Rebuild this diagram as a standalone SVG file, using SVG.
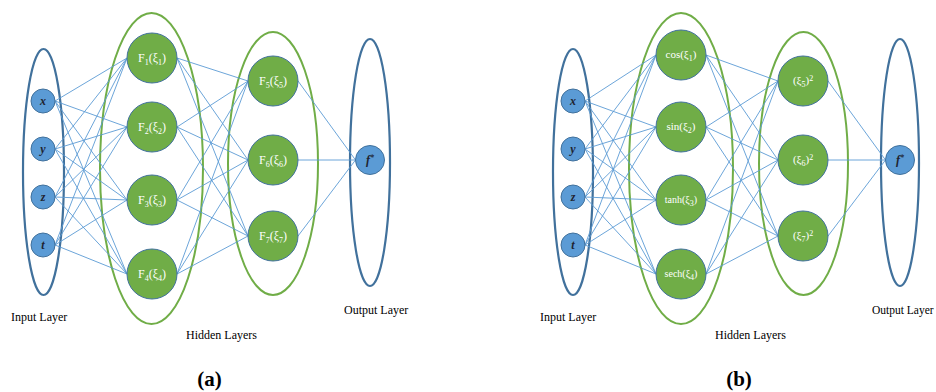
<svg xmlns="http://www.w3.org/2000/svg" width="936" height="392" viewBox="0 0 936 392">
<style>
text{font-family:"Liberation Serif","Times New Roman",serif}
.io{fill:none;stroke:#41719C;stroke-width:2.2}
.hl{fill:none;stroke:#70AD47;stroke-width:2}
.in{fill:#5B9BD5;stroke:#41719C;stroke-width:1}
.hn{fill:#70AD47;stroke:#41719C;stroke-width:1}
.c line{stroke:#5B9BD5;stroke-width:0.9}
.v{font-size:12px;font-weight:bold;font-style:italic;fill:#1f2430;text-anchor:middle}
.f{font-size:12px;fill:#ffffff;text-anchor:middle}
.f10{font-size:10px;fill:#ffffff;text-anchor:middle}
.f11{font-size:11px;fill:#ffffff;text-anchor:middle}
.s{font-size:8px}
.lab{font-size:12px;fill:#000}
.cap{font-size:21px;font-weight:bold;text-anchor:middle;fill:#000}
</style>

<!-- Panel (a) layers -->
<g id="a-input-layer"><ellipse class="io" cx="43.5" cy="172" rx="20.5" ry="123"/></g>
<g id="a-hidden-layer-1"><ellipse class="hl" cx="151.5" cy="168.5" rx="51.5" ry="155.5"/></g>
<g id="a-hidden-layer-2"><ellipse class="hl" cx="273" cy="163.5" rx="45" ry="131.5"/></g>
<g id="a-output-layer"><ellipse class="io" cx="370" cy="162.5" rx="20" ry="123.5"/></g>

<!-- Panel (b) layers -->
<g id="b-input-layer"><ellipse class="io" cx="573" cy="172" rx="20" ry="123"/></g>
<g id="b-hidden-layer-1"><ellipse class="hl" cx="681" cy="168.5" rx="52" ry="155.5"/></g>
<g id="b-hidden-layer-2"><ellipse class="hl" cx="803.5" cy="163.5" rx="44.5" ry="131.5"/></g>
<g id="b-output-layer"><ellipse class="io" cx="900" cy="162.5" rx="19" ry="123.5"/></g>

<g id="connectors" class="c">
<!-- a: input -> hidden1 -->
<line x1="55" y1="101" x2="127" y2="58"/><line x1="55" y1="101" x2="127" y2="127"/><line x1="55" y1="101" x2="127" y2="200"/><line x1="55" y1="101" x2="127" y2="274"/>
<line x1="55" y1="149" x2="127" y2="58"/><line x1="55" y1="149" x2="127" y2="127"/><line x1="55" y1="149" x2="127" y2="200"/><line x1="55" y1="149" x2="127" y2="274"/>
<line x1="55" y1="197" x2="127" y2="58"/><line x1="55" y1="197" x2="127" y2="127"/><line x1="55" y1="197" x2="127" y2="200"/><line x1="55" y1="197" x2="127" y2="274"/>
<line x1="55" y1="245" x2="127" y2="58"/><line x1="55" y1="245" x2="127" y2="127"/><line x1="55" y1="245" x2="127" y2="200"/><line x1="55" y1="245" x2="127" y2="274"/>
<!-- a: hidden1 -> hidden2 -->
<line x1="177" y1="58" x2="248" y2="81"/><line x1="177" y1="58" x2="248" y2="160"/><line x1="177" y1="58" x2="248" y2="236"/>
<line x1="177" y1="127" x2="248" y2="81"/><line x1="177" y1="127" x2="248" y2="160"/><line x1="177" y1="127" x2="248" y2="236"/>
<line x1="177" y1="200" x2="248" y2="81"/><line x1="177" y1="200" x2="248" y2="160"/><line x1="177" y1="200" x2="248" y2="236"/>
<line x1="177" y1="274" x2="248" y2="81"/><line x1="177" y1="274" x2="248" y2="160"/><line x1="177" y1="274" x2="248" y2="236"/>
<!-- a: hidden2 -> output -->
<line x1="298" y1="81" x2="355.5" y2="160"/><line x1="298" y1="160" x2="355.5" y2="160"/><line x1="298" y1="236" x2="355.5" y2="160"/>

<!-- b: input -> hidden1 -->
<line x1="585" y1="101" x2="656" y2="55"/><line x1="585" y1="101" x2="656" y2="127"/><line x1="585" y1="101" x2="656" y2="200"/><line x1="585" y1="101" x2="656" y2="274"/>
<line x1="585" y1="149" x2="656" y2="55"/><line x1="585" y1="149" x2="656" y2="127"/><line x1="585" y1="149" x2="656" y2="200"/><line x1="585" y1="149" x2="656" y2="274"/>
<line x1="585" y1="197" x2="656" y2="55"/><line x1="585" y1="197" x2="656" y2="127"/><line x1="585" y1="197" x2="656" y2="200"/><line x1="585" y1="197" x2="656" y2="274"/>
<line x1="585" y1="245" x2="656" y2="55"/><line x1="585" y1="245" x2="656" y2="127"/><line x1="585" y1="245" x2="656" y2="200"/><line x1="585" y1="245" x2="656" y2="274"/>
<!-- b: hidden1 -> hidden2 -->
<line x1="706" y1="55" x2="778" y2="81"/><line x1="706" y1="55" x2="778" y2="160"/><line x1="706" y1="55" x2="778" y2="236"/>
<line x1="706" y1="127" x2="778" y2="81"/><line x1="706" y1="127" x2="778" y2="160"/><line x1="706" y1="127" x2="778" y2="236"/>
<line x1="706" y1="200" x2="778" y2="81"/><line x1="706" y1="200" x2="778" y2="160"/><line x1="706" y1="200" x2="778" y2="236"/>
<line x1="706" y1="274" x2="778" y2="81"/><line x1="706" y1="274" x2="778" y2="160"/><line x1="706" y1="274" x2="778" y2="236"/>
<!-- b: hidden2 -> output -->
<line x1="828" y1="81" x2="885.5" y2="160"/><line x1="828" y1="160" x2="885.5" y2="160"/><line x1="828" y1="236" x2="885.5" y2="160"/>
</g>

<!-- Panel (a) nodes -->
<g id="a-x"><circle class="in" cx="43" cy="101" r="12"/><text class="v" x="43" y="105">x</text></g>
<g id="a-y"><circle class="in" cx="43" cy="149" r="12"/><text class="v" x="43" y="153">y</text></g>
<g id="a-z"><circle class="in" cx="43" cy="197" r="12"/><text class="v" x="43" y="201">z</text></g>
<g id="a-t"><circle class="in" cx="43" cy="245" r="12"/><text class="v" x="43" y="249">t</text></g>

<g id="a-F1"><circle class="hn" cx="152" cy="58" r="25"/><text class="f" x="152" y="62">F<tspan class="s" dy="3">1</tspan><tspan dy="-3">(ξ</tspan><tspan class="s" dy="3">1</tspan><tspan dy="-3">)</tspan></text></g>
<g id="a-F2"><circle class="hn" cx="152" cy="127" r="25"/><text class="f" x="152" y="131">F<tspan class="s" dy="3">2</tspan><tspan dy="-3">(ξ</tspan><tspan class="s" dy="3">2</tspan><tspan dy="-3">)</tspan></text></g>
<g id="a-F3"><circle class="hn" cx="152" cy="200" r="25"/><text class="f" x="152" y="204">F<tspan class="s" dy="3">3</tspan><tspan dy="-3">(ξ</tspan><tspan class="s" dy="3">3</tspan><tspan dy="-3">)</tspan></text></g>
<g id="a-F4"><circle class="hn" cx="152" cy="274" r="25"/><text class="f" x="152" y="278">F<tspan class="s" dy="3">4</tspan><tspan dy="-3">(ξ</tspan><tspan class="s" dy="3">4</tspan><tspan dy="-3">)</tspan></text></g>

<g id="a-F5"><circle class="hn" cx="273" cy="81" r="25"/><text class="f" x="273" y="85">F<tspan class="s" dy="3">5</tspan><tspan dy="-3">(ξ</tspan><tspan class="s" dy="3">5</tspan><tspan dy="-3">)</tspan></text></g>
<g id="a-F6"><circle class="hn" cx="273" cy="160" r="25"/><text class="f" x="273" y="164">F<tspan class="s" dy="3">6</tspan><tspan dy="-3">(ξ</tspan><tspan class="s" dy="3">6</tspan><tspan dy="-3">)</tspan></text></g>
<g id="a-F7"><circle class="hn" cx="273" cy="236" r="25"/><text class="f" x="273" y="240">F<tspan class="s" dy="3">7</tspan><tspan dy="-3">(ξ</tspan><tspan class="s" dy="3">7</tspan><tspan dy="-3">)</tspan></text></g>

<g id="a-fstar"><circle class="in" cx="370" cy="160" r="14.5"/><text class="v" x="370" y="164">f<tspan class="s" dy="-4">*</tspan></text></g>

<!-- Panel (b) nodes -->
<g id="b-x"><circle class="in" cx="573" cy="101" r="12"/><text class="v" x="573" y="105">x</text></g>
<g id="b-y"><circle class="in" cx="573" cy="149" r="12"/><text class="v" x="573" y="153">y</text></g>
<g id="b-z"><circle class="in" cx="573" cy="197" r="12"/><text class="v" x="573" y="201">z</text></g>
<g id="b-t"><circle class="in" cx="573" cy="245" r="12"/><text class="v" x="573" y="249">t</text></g>

<g id="b-cos"><circle class="hn" cx="681" cy="55" r="25"/><text class="f11" x="681" y="58">cos(ξ<tspan class="s" dy="3">1</tspan><tspan dy="-3">)</tspan></text></g>
<g id="b-sin"><circle class="hn" cx="681" cy="127" r="25"/><text class="f11" x="681" y="130">sin(ξ<tspan class="s" dy="3">2</tspan><tspan dy="-3">)</tspan></text></g>
<g id="b-tanh"><circle class="hn" cx="681" cy="200" r="25"/><text class="f10" x="681" y="203">tanh(ξ<tspan class="s" dy="3">3</tspan><tspan dy="-3">)</tspan></text></g>
<g id="b-sech"><circle class="hn" cx="681" cy="274" r="25"/><text class="f10" x="681" y="277">sech(ξ<tspan class="s" dy="3">4</tspan><tspan dy="-3">)</tspan></text></g>

<g id="b-sq5"><circle class="hn" cx="803" cy="81" r="25"/><text class="f11" x="803" y="84">(ξ<tspan class="s" dy="3">5</tspan><tspan dy="-3">)</tspan><tspan class="s" dy="-3">2</tspan></text></g>
<g id="b-sq6"><circle class="hn" cx="803" cy="160" r="25"/><text class="f11" x="803" y="163">(ξ<tspan class="s" dy="3">6</tspan><tspan dy="-3">)</tspan><tspan class="s" dy="-3">2</tspan></text></g>
<g id="b-sq7"><circle class="hn" cx="803" cy="236" r="25"/><text class="f11" x="803" y="239">(ξ<tspan class="s" dy="3">7</tspan><tspan dy="-3">)</tspan><tspan class="s" dy="-3">2</tspan></text></g>

<g id="b-fstar"><circle class="in" cx="900" cy="160" r="14.5"/><text class="v" x="900" y="164">f<tspan class="s" dy="-4">*</tspan></text></g>

<!-- Labels -->
<text class="lab" x="11" y="321">Input Layer</text>
<text class="lab" x="186" y="339">Hidden Layers</text>
<text class="lab" x="344" y="314">Output Layer</text>
<text class="cap" x="209.5" y="386">(a)</text>

<text class="lab" x="540" y="321">Input Layer</text>
<text class="lab" x="715" y="339">Hidden Layers</text>
<text class="lab" x="872" y="314" style="font-size:11.5px">Output Layer</text>
<text class="cap" x="739" y="386">(b)</text>
</svg>
